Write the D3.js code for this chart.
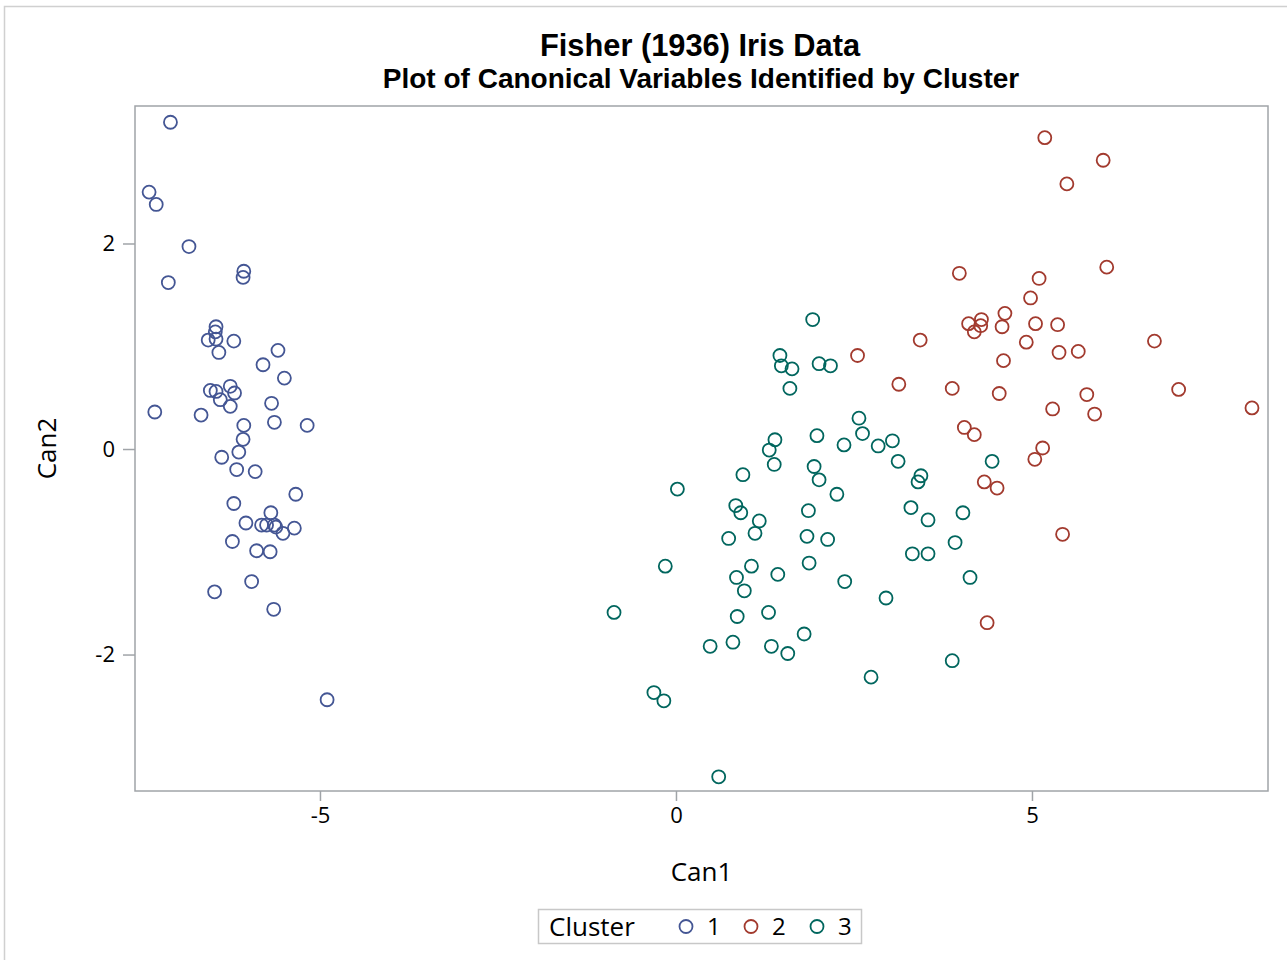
<!DOCTYPE html>
<html><head><meta charset="utf-8">
<script src="https://cdn.jsdelivr.net/npm/d3@7"></script>
<style>body{margin:0;background:#fff}svg{display:block}</style>
</head><body>
<script>
// ---- data ----
const clusterLabels = ["1", "2", "3"];
const clusterColors = ["#445694", "#A23A2E", "#01665E"];
const xTicks = [-5, 0, 5];
const yTicks = [-2, 0, 2];
const cluster1 = [
[-7.10,3.18],[-7.40,2.50],[-7.30,2.38],[-6.84,1.97],[-6.07,1.73],[-6.08,1.67],[-7.13,1.62],
[-6.46,1.19],[-6.47,1.14],[-6.57,1.06],[-6.46,1.07],[-6.21,1.05],[-6.42,0.94],[-5.59,0.96],
[-5.80,0.82],[-5.50,0.69],[-6.54,0.57],[-6.46,0.56],[-6.26,0.61],[-6.20,0.545],[-6.40,0.48],
[-6.26,0.415],[-5.68,0.445],[-7.32,0.36],[-6.67,0.33],[-6.07,0.23],[-5.64,0.26],[-5.18,0.23],
[-6.08,0.094],[-6.14,-0.03],[-6.38,-0.08],[-6.17,-0.20],[-5.91,-0.22],[-5.34,-0.44],[-6.21,-0.53],
[-5.69,-0.62],[-6.04,-0.72],[-5.82,-0.74],[-5.75,-0.74],[-5.64,-0.74],[-5.62,-0.76],[-5.52,-0.82],
[-5.36,-0.77],[-6.23,-0.90],[-5.89,-0.99],[-5.70,-1.00],[-5.96,-1.29],[-6.48,-1.39],[-5.65,-1.56],
[-4.90,-2.44]
];
const cluster2 = [
[5.18,3.03],[6.00,2.81],[5.49,2.58],[3.98,1.71],[5.10,1.66],[6.05,1.77],[4.98,1.47],[4.62,1.32],
[4.11,1.22],[4.29,1.26],[4.28,1.20],[4.19,1.14],[4.58,1.19],[5.05,1.22],[4.92,1.04],[3.43,1.06],
[2.55,0.91],[4.60,0.86],[3.13,0.63],[3.88,0.59],[4.54,0.54],[5.29,0.39],[4.05,0.21],[4.19,0.14],
[5.15,0.01],[5.04,-0.10],[4.33,-0.32],[4.51,-0.38],[5.36,1.21],[5.38,0.94],[5.65,0.95],[6.72,1.05],
[5.77,0.53],[5.88,0.34],[7.06,0.58],[8.09,0.40],[5.43,-0.83],[4.37,-1.69]
];
const cluster3 = [
[1.92,1.26],[1.46,0.91],[1.48,0.81],[1.63,0.78],[2.01,0.83],[2.17,0.81],[1.60,0.59],[1.39,0.09],
[1.31,-0.01],[1.98,0.13],[2.36,0.04],[1.38,-0.15],[1.94,-0.17],[2.01,-0.30],[0.94,-0.25],[0.02,-0.39],
[2.26,-0.44],[0.84,-0.55],[0.91,-0.62],[1.17,-0.70],[1.86,-0.60],[0.74,-0.87],[1.11,-0.82],[1.84,-0.85],
[2.13,-0.88],[-0.15,-1.14],[1.06,-1.14],[1.43,-1.22],[1.87,-1.11],[2.37,-1.29],[0.85,-1.25],[0.96,-1.38],
[-0.87,-1.59],[0.86,-1.63],[1.30,-1.59],[1.80,-1.80],[0.48,-1.92],[0.80,-1.88],[1.34,-1.92],[1.57,-1.99],
[-0.31,-2.37],[-0.17,-2.45],[0.60,-3.19],[2.57,0.30],[2.62,0.15],[2.84,0.03],[3.04,0.08],[3.12,-0.12],
[3.44,-0.26],[3.40,-0.32],[3.30,-0.57],[3.54,-0.69],[4.03,-0.62],[4.44,-0.12],[3.92,-0.91],[3.32,-1.02],
[3.54,-1.02],[4.13,-1.25],[2.95,-1.45],[3.88,-2.06],[2.74,-2.22]
];
const clusters = [cluster1, cluster2, cluster3];

// ---- layout ----
const W = 1287, H = 960;
const L = 135, R = 1268, T = 106, B = 791;
const svg = d3.select("body").append("svg").attr("width", W).attr("height", H);

svg.append("rect").attr("x", 4.5).attr("y", 6.5).attr("width", W + 10).attr("height", H + 10)
  .attr("fill", "none").attr("stroke", "#d0d0d0").attr("stroke-width", 1.5);

const x = d3.scaleLinear().domain([-7.598, 8.315]).range([L, R]);
const y = d3.scaleLinear().domain([-3.328, 3.338]).range([B, T]);

const titleFont = "'Liberation Sans', Arial, sans-serif";
const font = "'Open Sans', sans-serif";

svg.append("text").attr("x", 700).attr("y", 56).attr("text-anchor", "middle")
  .style("font-family", titleFont).style("font-weight", "bold").style("font-size", "30.8px")
  .text("Fisher (1936) Iris Data");
svg.append("text").attr("x", 701).attr("y", 88).attr("text-anchor", "middle")
  .style("font-family", titleFont).style("font-weight", "bold").style("font-size", "28px")
  .text("Plot of Canonical Variables Identified by Cluster");

// axes
const fmt = d => String(d);
const xAxis = svg.append("g").attr("transform", `translate(0,${B})`)
  .call(d3.axisBottom(x).tickValues(xTicks).tickSize(10).tickPadding(6).tickFormat(fmt));
const yAxis = svg.append("g").attr("transform", `translate(${L},0)`)
  .call(d3.axisLeft(y).tickValues(yTicks).tickSize(12).tickPadding(8).tickFormat(fmt));
[xAxis, yAxis].forEach(g => {
  g.select(".domain").remove();
  g.selectAll(".tick line").attr("stroke", "#a0a4a8").attr("stroke-width", 1.5);
  g.selectAll(".tick text").style("font-family", font).style("font-size", "22px").attr("fill", "#000");
});

svg.append("rect").attr("x", L).attr("y", T).attr("width", R - L).attr("height", B - T)
  .attr("fill", "none").attr("stroke", "#a0a4a8").attr("stroke-width", 1.5);

svg.append("text").attr("x", (L + R) / 2).attr("y", 881).attr("text-anchor", "middle")
  .style("font-family", font).style("font-size", "26px").text("Can1");
svg.append("text").attr("transform", `translate(56,${(T + B) / 2}) rotate(-90)`).attr("text-anchor", "middle")
  .style("font-family", font).style("font-size", "26px").text("Can2");

// points
clusters.forEach((pts, i) => {
  svg.append("g").selectAll("circle").data(pts).join("circle")
    .attr("cx", d => x(d[0])).attr("cy", d => y(d[1])).attr("r", 6.5)
    .attr("fill", "none").attr("stroke", clusterColors[i]).attr("stroke-width", 1.8);
});

// legend
const lg = svg.append("g");
lg.append("rect").attr("x", 538.5).attr("y", 909.5).attr("width", 323).attr("height", 34)
  .attr("fill", "#fff").attr("stroke", "#c8c8c8").attr("stroke-width", 1.5);
lg.append("text").attr("x", 549).attr("y", 936).style("font-family", font).style("font-size", "26px").text("Cluster");
const legX = [686, 751, 817];
clusterLabels.forEach((lab, i) => {
  lg.append("circle").attr("cx", legX[i]).attr("cy", 926.5).attr("r", 6.5)
    .attr("fill", "none").attr("stroke", clusterColors[i]).attr("stroke-width", 1.8);
  lg.append("text").attr("x", legX[i] + 21).attr("y", 935).style("font-family", font).style("font-size", "24px").text(lab);
});
</script>
</body></html>
